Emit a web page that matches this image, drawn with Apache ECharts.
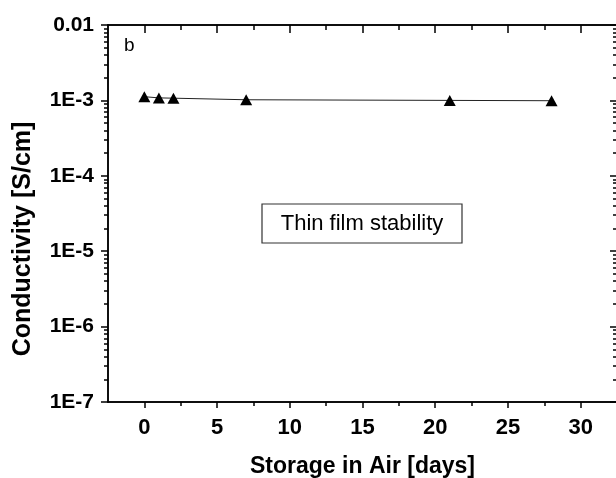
<!DOCTYPE html>
<html>
<head>
<meta charset="utf-8">
<script src="https://cdn.jsdelivr.net/npm/echarts@6/dist/echarts.min.js"></script>
<style>
  html, body { margin: 0; padding: 0; background: #fff; }
  #main { width: 616px; height: 478px; }
</style>
</head>
<body>
<div id="main"></div>
<script>
// data
var days = [0, 1, 2, 7, 21, 28];
var conductivity = [1.12e-3, 1.08e-3, 1.07e-3, 1.02e-3, 1.0e-3, 0.99e-3];

// ticks
var xMajor = [0, 5, 10, 15, 20, 25, 30];
var xMinor = [2.5, 7.5, 12.5, 17.5, 22.5, 27.5];
var yMajor = [1e-7, 1e-6, 1e-5, 1e-4, 1e-3, 1e-2];
var mantissas = [2, 3, 4, 5, 6, 7, 8, 9];
var yMinor = [];
yMajor.slice(0, -1).forEach(function (d) {
  mantissas.forEach(function (m) { yMinor.push(+(m * d).toPrecision(2)); });
});

var font = 'Liberation Sans, Arial, sans-serif';
var black = '#000';

function yLabel(v) {
  if (v >= 0.0099) return '0.01';
  return '1E' + Math.round(Math.log10(v));
}

function xAx(pos, ticks, len, inside, labels) {
  return {
    type: 'value', position: pos, min: -2.5, max: 32.5,
    axisLine: { show: true, onZero: false, lineStyle: { color: black, width: 1.5 } },
    axisTick: { show: true, customValues: ticks, length: len, inside: inside, lineStyle: { color: black, width: 1.5 } },
    axisLabel: labels ? {
      show: true, customValues: ticks, margin: 15,
      color: black, fontFamily: font, fontWeight: 'bold', fontSize: 22
    } : { show: false },
    splitLine: { show: false }
  };
}

function yAx(pos, ticks, len, inside, labels) {
  return {
    type: 'log', logBase: 10, position: pos, min: 1e-7, max: 1e-2,
    axisLine: { show: true, onZero: false, lineStyle: { color: black, width: 1.5 } },
    axisTick: { show: true, customValues: ticks, length: len, inside: inside, lineStyle: { color: black, width: 1.5 } },
    axisLabel: labels ? {
      show: true, customValues: ticks, margin: 14, formatter: yLabel,
      color: black, fontFamily: font, fontWeight: 'bold', fontSize: 21
    } : { show: false },
    splitLine: { show: false }
  };
}

var chart = echarts.init(document.getElementById('main'));

var xAxes = [
  xAx('bottom', xMajor, 6, false, true),
  xAx('bottom', xMinor, 4, false, false),
  xAx('top', xMajor, 8, true, false),
  xAx('top', xMinor, 5, true, false)
];
xAxes[0].name = 'Storage in Air [days]';
xAxes[0].nameLocation = 'middle';
xAxes[0].nameGap = 53;
xAxes[0].nameTextStyle = { color: black, fontFamily: font, fontWeight: 'bold', fontSize: 23 };

var yAxes = [
  yAx('left', yMajor, 7, false, true),
  yAx('left', yMinor, 4, false, false),
  yAx('right', yMajor, 7, true, false),
  yAx('right', yMinor, 4, true, false)
];

chart.setOption({
  animation: false,
  grid: { left: 108, top: 25, width: 509, height: 377, outerBoundsMode: 'none', containLabel: false },
  xAxis: xAxes,
  yAxis: yAxes,
  graphic: [
    { type: 'text', x: 23, y: 239, rotation: Math.PI / 2,
      style: { text: 'Conductivity [S/cm]', fill: black, font: 'bold 25px ' + font,
               align: 'center', verticalAlign: 'middle' } },
    { type: 'text', left: 124, top: 36,
      style: { text: 'b', fill: black, font: '19px ' + font } },
    { type: 'rect', shape: { x: 262, y: 204, width: 200, height: 39 },
      style: { fill: '#fff', stroke: '#333', lineWidth: 1.2 } },
    { type: 'text', x: 362, y: 224,
      style: { text: 'Thin film stability', fill: black, font: '22px ' + font,
               align: 'center', verticalAlign: 'middle' } }
  ],
  series: [{
    type: 'line',
    data: days.map(function (d, i) { return [d, conductivity[i]]; }),
    symbol: 'triangle',
    symbolSize: [12, 11],
    itemStyle: { color: black },
    lineStyle: { color: '#222', width: 1 }
  }]
});
</script>
</body>
</html>
